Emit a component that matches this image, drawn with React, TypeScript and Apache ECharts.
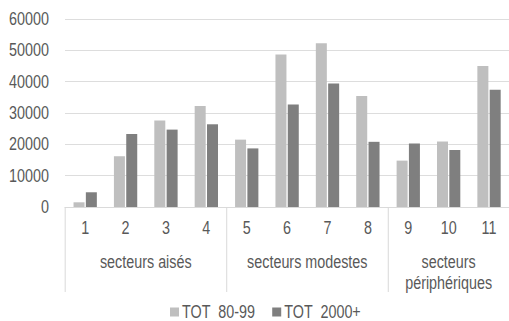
import React, { useEffect, useRef } from "react";
import * as echarts from "echarts";

const categories = ["1", "2", "3", "4", "5", "6", "7", "8", "9", "10", "11"];
const tot8099 = [1500, 16200, 27600, 32200, 21500, 48700, 52300, 35400, 14800, 20900, 45000];
const tot2000 = [4700, 23300, 24700, 26400, 18700, 32700, 39400, 20800, 20300, 18200, 37400];
const groupNames = ["secteurs aisés", "secteurs modestes", "secteurs\npériphériques"];
const groupSizes = [4, 4, 3];
const seriesNames = ["TOT  80-99", "TOT  2000+"];

const FONT = "'Liberation Sans', Arial, sans-serif";
const FS = 17.5;
const TEXT = "#595959";
// horizontal condensing factor (emulates a narrow typeface)
const SX = 0.82;
const W = 509;
const H = 321;
const hx = (px: number) => px / SX;

export default function App() {
  const ref = useRef<HTMLDivElement>(null);
  useEffect(() => {
    if (!ref.current) return;
    const chart = echarts.init(ref.current, null, { renderer: "svg" });
    const bounds: number[] = [0];
    const centers: number[] = [];
    groupSizes.forEach((s, i) => {
      const start = bounds[i];
      bounds.push(start + s);
      centers.push(start + s / 2);
    });
    const total = bounds[bounds.length - 1];
    chart.setOption({
      animation: false,
      textStyle: { fontFamily: FONT },
      grid: { left: hx(65), right: hx(-5), top: 19, bottom: 114, containLabel: false },
      legend: {
        left: hx(170),
        top: 303,
        padding: 0,
        icon: "rect",
        itemWidth: hx(9),
        itemHeight: 9,
        itemGap: hx(17),
        textStyle: { color: TEXT, fontSize: FS, fontFamily: FONT, lineHeight: 18, padding: [0, 0, 0, hx(-1)] },
        data: seriesNames,
      },
      xAxis: [
        {
          type: "category",
          data: categories,
          position: "bottom",
          axisLine: { show: true, lineStyle: { color: "#D9D9D9", width: 1 } },
          axisTick: { show: false },
          axisLabel: { color: TEXT, fontSize: FS, fontFamily: FONT, margin: 12, lineHeight: 18, interval: 0 },
        },
        {
          type: "value",
          min: 0,
          max: total,
          position: "bottom",
          offset: 0,
          splitLine: { show: false },
          axisLine: { show: false },
          axisTick: {
            show: true,
            customValues: bounds,
            length: 85,
            lineStyle: { color: "#D9D9D9", width: hx(1) },
          },
          axisLabel: {
            show: true,
            customValues: centers,
            color: TEXT,
            fontSize: FS,
            fontFamily: FONT,
            lineHeight: 21,
            margin: 44,
            verticalAlign: "top",
            formatter: (v: number) => {
              const idx = centers.findIndex((c) => Math.abs(c - v) < 1e-6);
              return idx >= 0 ? groupNames[idx] : "";
            },
          },
        },
      ],
      yAxis: {
        type: "value",
        min: 0,
        max: 60000,
        interval: 10000,
        axisLine: { show: false },
        axisTick: { show: false },
        splitLine: { lineStyle: { color: "#D9D9D9", width: 1 } },
        axisLabel: { color: TEXT, fontSize: FS, fontFamily: FONT, margin: hx(16), formatter: (v: number) => String(v) },
      },
      series: [
        {
          name: seriesNames[0],
          type: "bar",
          data: tot8099,
          barWidth: hx(11),
          barGap: "12%",
          itemStyle: { color: "#BFBFBF" },
        },
        {
          name: seriesNames[1],
          type: "bar",
          data: tot2000,
          barWidth: hx(11),
          barGap: "12%",
          itemStyle: { color: "#7F7F7F" },
        },
      ],
    });
    return () => chart.dispose();
  }, []);
  return (
    <div style={{ position: "absolute", left: 0, top: 0, width: W, height: H, overflow: "hidden", background: "#fff" }}>
      <div
        ref={ref}
        style={{
          width: W / SX,
          height: H,
          transform: `scaleX(${SX})`,
          transformOrigin: "0 0",
        }}
      />
    </div>
  );
}
